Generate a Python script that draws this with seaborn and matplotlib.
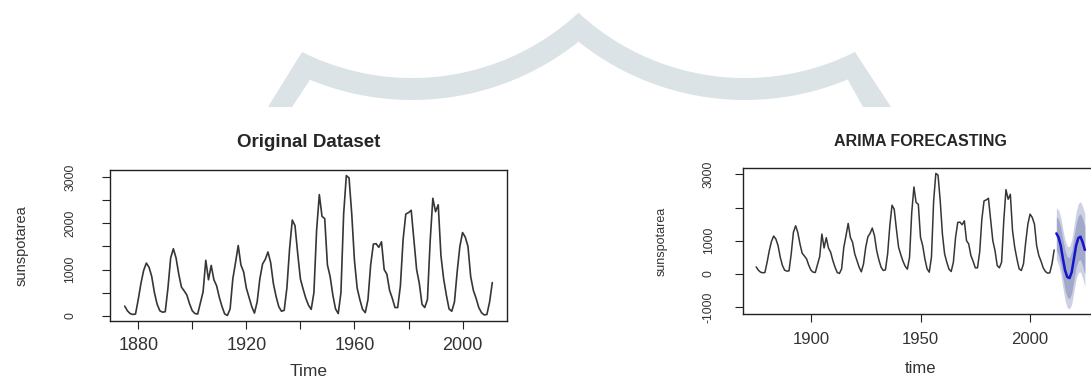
import numpy as np
import matplotlib
matplotlib.use("Agg")
import matplotlib.pyplot as plt
import seaborn as sns
from matplotlib.patches import Polygon

# ---------------- data ----------------
years = list(range(1875, 2012))
sunspot_area = [210, 110, 50, 30, 40, 350, 700, 980, 1140, 1050,
                850, 500, 250, 110, 80, 90, 600, 1250, 1450, 1250,
                900, 620, 540, 450, 260, 110, 50, 40, 280, 520,
                1200, 780, 1090, 780, 650, 400, 200, 40, 10, 150,
                800, 1150, 1520, 1100, 950, 600, 400, 200, 60, 300,
                800, 1120, 1220, 1380, 1150, 700, 420, 200, 100, 120,
                600, 1450, 2070, 1950, 1350, 800, 580, 380, 230, 140,
                500, 1850, 2620, 2150, 2100, 1100, 850, 450, 150, 50,
                500, 2200, 3030, 2980, 2200, 1200, 600, 350, 140, 70,
                350, 1100, 1550, 1560, 1480, 1600, 1000, 900, 550, 380,
                180, 180, 650, 1650, 2200, 2230, 2280, 1650, 1000, 700,
                250, 180, 350, 1600, 2540, 2250, 2400, 1300, 800, 450,
                150, 100, 300, 950, 1500, 1800, 1700, 1500, 850, 550,
                380, 180, 70, 20, 30, 300, 720]

fc_years = list(range(2012, 2026))
fc_mean = [1220, 1100, 850, 450, 100, -100, -130, 50, 450, 850, 1080, 1120, 950, 720]
fc_lo80 = [710, 560, 290, -130, -500, -710, -750, -585, -200, 190, 400, 425, 240, 0]
fc_hi80 = [1730, 1640, 1410, 1030, 700, 510, 490, 685, 1100, 1510, 1760, 1815, 1660, 1440]
fc_lo95 = [440, 280, -10, -440, -810, -1030, -1050, -920, -540, -160, 40, 60, -130, -380]
fc_hi95 = [2000, 1920, 1710, 1340, 1010, 830, 820, 1020, 1440, 1860, 2120, 2180, 2030, 1820]

left_title = "Original Dataset"
right_title = "ARIMA FORECASTING"
left_xticks = [1880, 1900, 1920, 1940, 1960, 1980, 2000]
left_xlabels = ["1880", "", "1920", "", "1960", "", "2000"]
left_yticks = [0, 500, 1000, 1500, 2000, 2500, 3000]
left_ylabels = ["0", "", "1000", "", "2000", "", "3000"]
right_xticks = [1900, 1950, 2000]
right_xlabels = ["1900", "1950", "2000"]
right_yticks = [-1000, 0, 1000, 2000, 3000]
right_ylabels = ["-1000", "0", "1000", "", "3000"]

# ---------------- style ----------------
sns.set_style("white")
plt.rcParams['font.family'] = ['Liberation Sans', 'DejaVu Sans']

W, H = 1091, 381
fig = plt.figure(figsize=(W / 100, H / 100), dpi=100)
fig.patch.set_facecolor("white")

# decorative watermark (light grey arch) in pixel space
def arc(cx, cy, R, x0, x1, n=80):
    xs = np.linspace(x0, x1, n)
    ys = cy + np.sqrt(R ** 2 - (xs - cx) ** 2)
    return list(zip(xs, ys))

pts = [(268, 107), (302, 52)]
pts += arc(412, -167, 245, 302, 578)
pts += arc(745, -167, 245, 578, 855)
pts += [(855, 52), (891, 107), (863, 107), (848, 80)]
pts += arc(745, -167, 267, 848, 578)
pts += arc(412, -167, 267, 578, 310)
pts += [(310, 80), (292, 107)]
pts = [(x / W, 1 - y / H) for x, y in pts]
fig.patches.append(Polygon(pts, closed=True, transform=fig.transFigure,
                           facecolor="#dce3e6", edgecolor="none", zorder=0))

axL = fig.add_axes([110 / W, 1 - 321 / H, 397 / W, 151 / H])
axR = fig.add_axes([743 / W, 1 - 314 / H, 355 / W, 146 / H])

line_col = "#363636"
txt_col = "#333333"

# left panel
sns.lineplot(x=years, y=sunspot_area, ax=axL, color=line_col, linewidth=1.2)
x0, x1 = min(years), max(years)
pad = 0.04 * (x1 - x0)
axL.set_xlim(x0 - pad, x1 + pad)
y0, y1 = min(sunspot_area), max(sunspot_area)
pad = 0.04 * (y1 - y0)
axL.set_ylim(y0 - pad, y1 + pad)

# right panel
axR.fill_between(fc_years, fc_lo95, fc_hi95, color="#cdd1e4", linewidth=0)
axR.fill_between(fc_years, fc_lo80, fc_hi80, color="#a2a8ca", linewidth=0)
sns.lineplot(x=years, y=sunspot_area, ax=axR, color=line_col, linewidth=1.1)
sns.lineplot(x=fc_years, y=fc_mean, ax=axR, color="#1414cc", linewidth=1.8)
x0, x1 = min(years), max(fc_years)
pad = 0.04 * (x1 - x0)
axR.set_xlim(x0 - pad, x1 + pad)
y0, y1 = min(fc_lo95), max(sunspot_area)
pad = 0.04 * (y1 - y0)
axR.set_ylim(y0 - pad, y1 + pad)

def style(ax, xt, xl, yt, yl, xsize, ysize, ypad, xpad):
    for s in ax.spines.values():
        s.set_visible(True)
        s.set_color("#222222")
        s.set_linewidth(1.0)
    ax.set_xticks(xt)
    ax.set_xticklabels(xl)
    ax.set_yticks(yt)
    ax.set_yticklabels(yl)
    ax.tick_params(axis="both", direction="out", length=5.8, width=0.8,
                   color="#222222", bottom=True, left=True, top=False, right=False,
                   labelcolor=txt_col)
    ax.tick_params(axis="x", labelsize=xsize, pad=xpad)
    ax.tick_params(axis="y", labelsize=ysize, pad=ypad, labelrotation=90)
    for t in ax.get_yticklabels():
        t.set_va("center")
        t.set_ha("right")
    ax.grid(False)

style(axL, left_xticks, left_xlabels, left_yticks, left_ylabels, 13, 8.7, 18.5, 5.5)
style(axR, right_xticks, right_xlabels, right_yticks, right_ylabels, 12, 8.7, 14.5, 7)

axL.set_title(left_title, fontsize=13.5, fontweight="bold", pad=16.5)
axR.set_title(right_title, fontsize=11.5, fontweight="bold", pad=16)

axL.set_xlabel("Time", fontsize=12.5, color=txt_col)
axL.xaxis.set_label_coords(0.5, -0.285)
axR.set_xlabel("time", fontsize=12, color=txt_col)
axR.xaxis.set_label_coords(0.5, -0.32)
axL.set_ylabel("sunspotarea", fontsize=10.5, color=txt_col)
axL.yaxis.set_label_coords(-0.204, 0.5)
axR.set_ylabel("sunspotarea", fontsize=9, color=txt_col)
axR.yaxis.set_label_coords(-0.211, 0.5)

fig.savefig("out.png", dpi=100)
